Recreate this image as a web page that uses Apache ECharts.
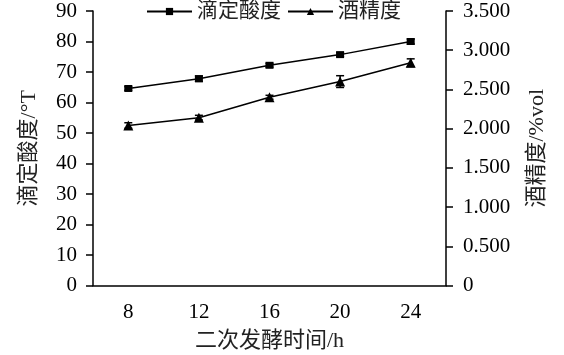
<!DOCTYPE html>
<html><head><meta charset="utf-8">
<script src="https://cdn.jsdelivr.net/npm/echarts@6/dist/echarts.min.js"></script>
<style>html,body{margin:0;padding:0;background:#fff}#c{width:564px;height:355px}</style>
</head><body><div id="c"></div>
<script>
const categories = ['8', '12', '16', '20', '24'];
const acidity = [64.6, 67.8, 72.2, 75.7, 80.0];
const acidityErr = [0.6, 0.9, 0.6, 0.6, 0.8];
const alcohol = [2.04, 2.14, 2.40, 2.60, 2.84];
const alcoholErr = [0.035, 0.03, 0.025, 0.075, 0.05];
const leftTicks = {min: 0, max: 90, interval: 10};
const rightTicks = {min: 0, max: 3.5, interval: 0.5};

const serif = '"Liberation Serif", "Noto Sans CJK SC", serif';
const black = '#000';

function errSeries(vals, errs, axisIdx) {
  return {
    type: 'custom', yAxisIndex: axisIdx, z: 3, silent: true,
    data: vals.map((v, i) => [i, v - errs[i], v + errs[i]]),
    renderItem: function (params, api) {
      const lo = api.coord([api.value(0), api.value(1)]);
      const hi = api.coord([api.value(0), api.value(2)]);
      const w = 4;
      const st = {stroke: black, lineWidth: 1.5};
      return {type: 'group', children: [
        {type: 'line', shape: {x1: lo[0], y1: lo[1], x2: hi[0], y2: hi[1]}, style: st},
        {type: 'line', shape: {x1: lo[0]-w, y1: lo[1], x2: lo[0]+w, y2: lo[1]}, style: st},
        {type: 'line', shape: {x1: hi[0]-w, y1: hi[1], x2: hi[0]+w, y2: hi[1]}, style: st}
      ]};
    }
  };
}

const chart = echarts.init(document.getElementById('c'), null, {renderer: 'canvas'});
chart.setOption({
  animation: false,
  backgroundColor: '#fff',
  textStyle: {fontFamily: serif, color: black},
  legend: {
    top: -4, left: 141, itemWidth: 45, itemHeight: 9, itemGap: 6,
    textStyle: {fontFamily: serif, fontSize: 21, color: '#222'},
    data: ['滴定酸度', '酒精度']
  },
  grid: {left: 93, right: 118, top: 11, bottom: 69.5, containLabel: false, outerBoundsMode: 'none'},
  xAxis: {
    type: 'category', data: categories, boundaryGap: true,
    name: '二次发酵时间/h', nameLocation: 'middle', nameGap: 45,
    nameTextStyle: {fontFamily: serif, fontSize: 22, color: '#222'},
    axisLine: {lineStyle: {color: black, width: 1.5}},
    axisTick: {alignWithLabel: true, length: 6, lineStyle: {color: black, width: 1.5}},
    axisLabel: {fontFamily: serif, fontSize: 21, color: black, margin: 16},
    splitLine: {show: false}
  },
  yAxis: [{
    type: 'value', position: 'left', min: leftTicks.min, max: leftTicks.max, interval: leftTicks.interval,
    name: '滴定酸度/°T', nameLocation: 'middle', nameGap: 53, nameRotate: 90,
    nameTextStyle: {fontFamily: serif, fontSize: 22, color: '#222'},
    axisLine: {show: true, lineStyle: {color: black, width: 1.5}},
    axisTick: {show: true, length: 7, lineStyle: {color: black, width: 1.5}},
    axisLabel: {fontFamily: serif, fontSize: 21, color: black, margin: 16},
    splitLine: {show: false}
  }, {
    type: 'value', position: 'right', min: rightTicks.min, max: rightTicks.max, interval: rightTicks.interval,
    name: '酒精度/%vol', nameLocation: 'middle', nameGap: 80, nameRotate: 90,
    nameTextStyle: {fontFamily: serif, fontSize: 22, color: '#222'},
    axisLine: {show: true, lineStyle: {color: black, width: 1.5}},
    axisTick: {show: true, length: 7, lineStyle: {color: black, width: 1.5}},
    axisLabel: {fontFamily: serif, fontSize: 21, color: black, margin: 17,
      formatter: v => v === 0 ? '0' : v.toFixed(3)},
    splitLine: {show: false}
  }],
  series: [{
    name: '滴定酸度', type: 'line', yAxisIndex: 0, data: acidity,
    symbol: 'rect', symbolSize: [8, 7], z: 4,
    lineStyle: {color: black, width: 1.5}, itemStyle: {color: black}
  }, {
    name: '酒精度', type: 'line', yAxisIndex: 1, data: alcohol,
    symbol: 'triangle', symbolSize: 10, z: 4,
    lineStyle: {color: black, width: 1.5}, itemStyle: {color: black}
  },
  errSeries(acidity, acidityErr, 0),
  errSeries(alcohol, alcoholErr, 1)]
});
</script></body></html>
